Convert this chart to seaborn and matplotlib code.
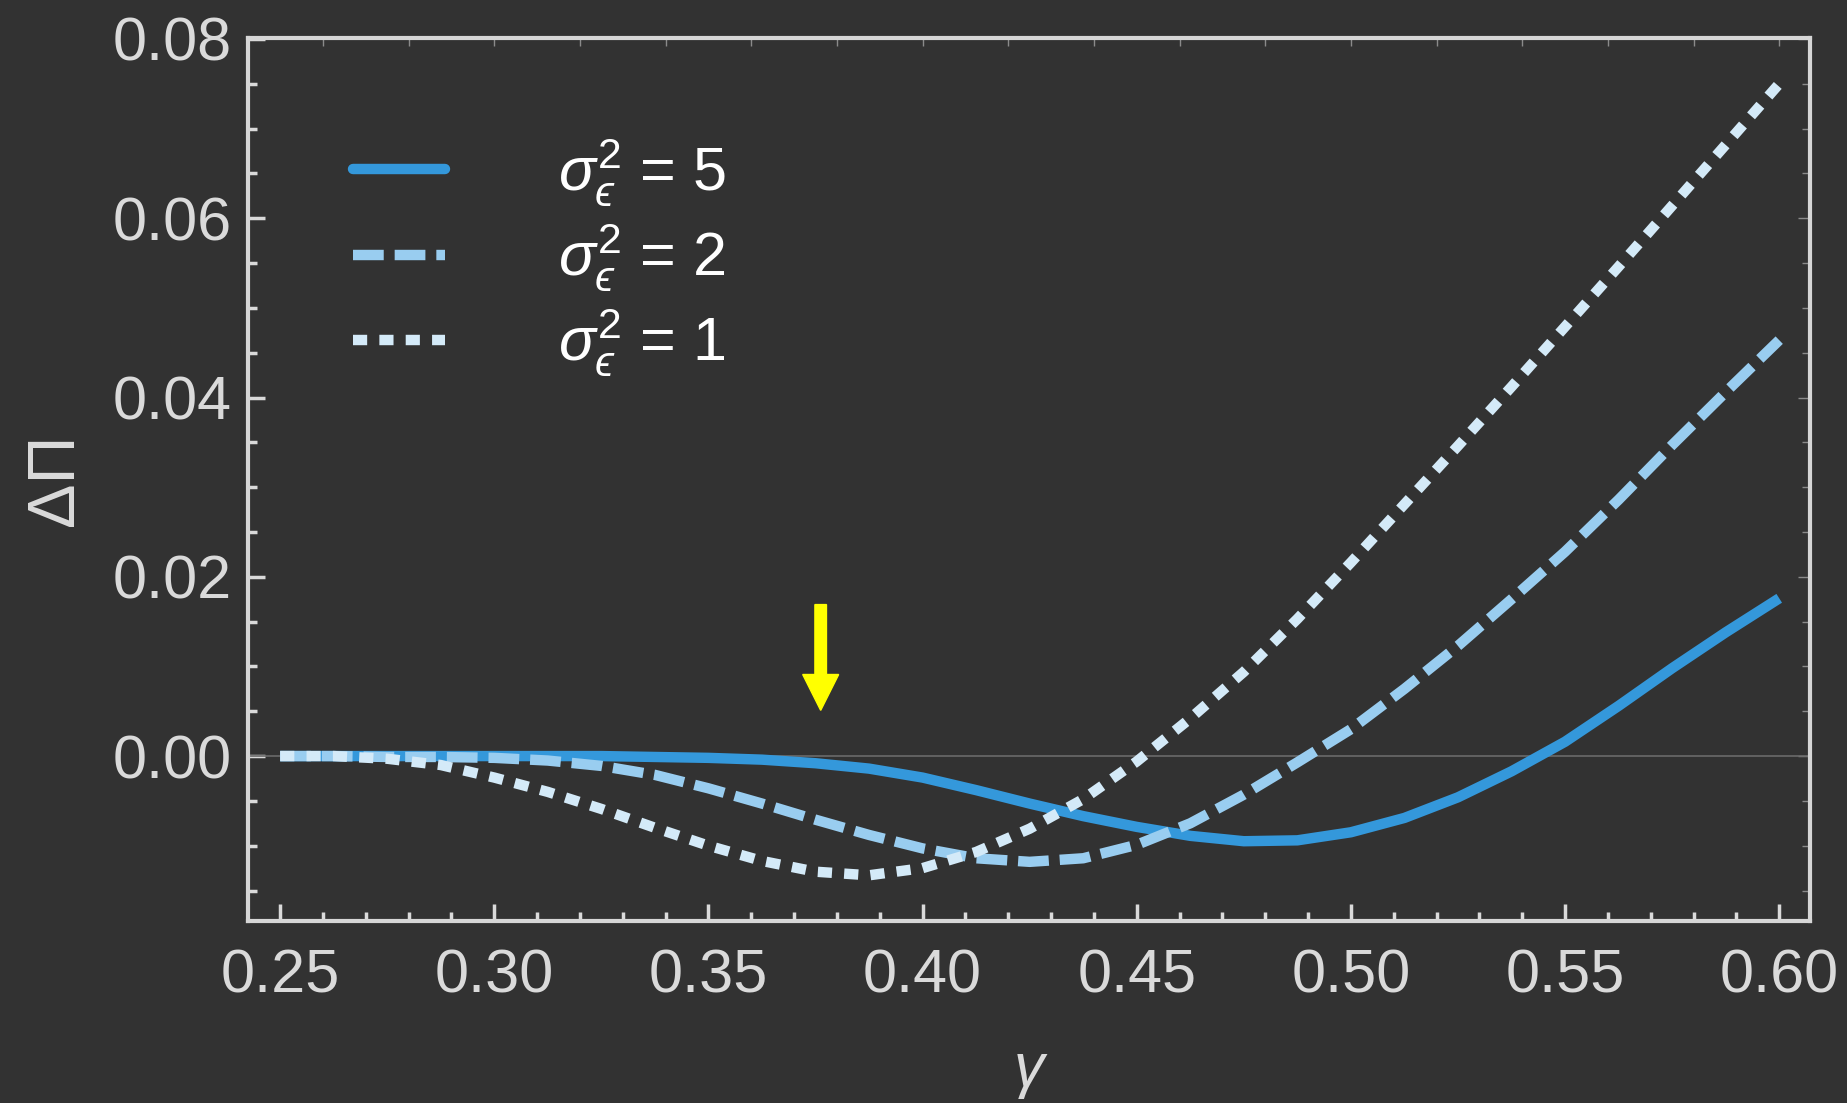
import numpy as np
import pandas as pd
import matplotlib
matplotlib.use('Agg')
import matplotlib.pyplot as plt
from matplotlib.ticker import MultipleLocator, FormatStrFormatter
from matplotlib.lines import Line2D
import seaborn as sns

# values
gamma = [0.25, 0.2625, 0.275, 0.2875, 0.30, 0.3125, 0.325, 0.3375, 0.35, 0.3625,
         0.375, 0.3875, 0.40, 0.4125, 0.425, 0.4375, 0.45, 0.4625, 0.475, 0.4875,
         0.50, 0.5125, 0.525, 0.5375, 0.55, 0.5625, 0.575, 0.5875, 0.60]
dpi_s5 = [0.0, 0.0, 0.0, 0.0, 0.0, 0.0, 0.0, -0.0001, -0.0002, -0.0004,
          -0.0008, -0.0014, -0.0024, -0.0038, -0.0053, -0.0067, -0.0079, -0.0089, -0.0095, -0.0094,
          -0.0085, -0.0069, -0.0046, -0.0017, 0.0016, 0.0056, 0.0098, 0.0138, 0.0176]
dpi_s2 = [0.0, 0.0, -0.0001, -0.0001, -0.0002, -0.0005, -0.0011, -0.0021, -0.0036, -0.0053,
          -0.0071, -0.0088, -0.0103, -0.0114, -0.0118, -0.0114, -0.0099, -0.0075, -0.0043, -0.0007,
          0.0030, 0.0075, 0.0123, 0.0175, 0.0228, 0.0286, 0.0347, 0.0406, 0.0464]
dpi_s1 = [0.0, 0.0, -0.0003, -0.0010, -0.0024, -0.0040, -0.0059, -0.0080, -0.0100, -0.0117,
          -0.0129, -0.0133, -0.0125, -0.0107, -0.0081, -0.0048, -0.0006, 0.0042, 0.0094, 0.0153,
          0.0216, 0.0281, 0.0346, 0.0412, 0.0479, 0.0546, 0.0614, 0.0682, 0.0750]
series_names = ['5', '2', '1']
legend_labels = ['$\\sigma_{\u03f5}^{2}$ = 5', '$\\sigma_{\u03f5}^{2}$ = 2', '$\\sigma_{\u03f5}^{2}$ = 1']
colors = ['#3498db', '#99cdf0', '#d4eaf8']

arrow_x = 0.3762
arrow_top = 0.0169
arrow_tip = 0.0051

df = pd.concat([
    pd.DataFrame({'gamma': gamma, 'dPi': vals, 'sigma': name})
    for name, vals in zip(series_names, [dpi_s5, dpi_s2, dpi_s1])
], ignore_index=True)

bg = '#323232'
fg = '#dadada'
sns.set_theme(style='dark')
plt.rcParams['font.family'] = ['Liberation Sans', 'DejaVu Sans']
plt.rcParams['mathtext.fontset'] = 'custom'
plt.rcParams['mathtext.rm'] = 'Liberation Sans'
plt.rcParams['mathtext.it'] = 'Liberation Sans:italic'

fig = plt.figure(figsize=(18.47, 11.03), dpi=100, facecolor=bg)
ax = fig.add_axes([0.1343, 0.165, 0.8457, 0.8005])
ax.set_facecolor(bg)

ax.axhline(0, color='#6a6a6a', lw=1.2, zorder=1)

lw = 7.5
palette = dict(zip(series_names, colors))
dashes = {'5': '', '2': (2.95, 1.05), '1': (1.36, 1.17)}
sns.lineplot(data=df, x='gamma', y='dPi', hue='sigma', style='sigma',
             hue_order=series_names, style_order=series_names,
             palette=palette, dashes=dashes, lw=lw, legend=False, ax=ax,
             zorder=3)
for ln in ax.lines[1:]:
    ln.set_dash_capstyle('butt')
    ln.set_solid_capstyle('butt')

ax.arrow(arrow_x, arrow_top, 0, arrow_tip - arrow_top, width=0.0027,
         head_width=0.0084, head_length=0.0040, length_includes_head=True,
         color='#ffff00', zorder=4)

ax.set_xlim(0.2425, 0.6072)
ax.set_ylim(-0.0184, 0.0801)

ax.xaxis.set_major_locator(MultipleLocator(0.05))
ax.xaxis.set_minor_locator(MultipleLocator(0.01))
ax.yaxis.set_major_locator(MultipleLocator(0.02))
ax.yaxis.set_minor_locator(MultipleLocator(0.005))
ax.xaxis.set_major_formatter(FormatStrFormatter('%.2f'))
ax.yaxis.set_major_formatter(FormatStrFormatter('%.2f'))

ax.tick_params(axis='both', which='both', direction='in', colors=fg,
               labelsize=44, bottom=True, left=True, top=False, right=False)
ax.tick_params(axis='both', which='major', length=12, width=2.5)
ax.tick_params(axis='both', which='minor', length=6.5, width=2.5)
ax.tick_params(axis='y', which='major', pad=12)
ax.tick_params(axis='x', which='major', pad=20)

# thin grey ticks on the top and right edges
ax_top = ax.secondary_xaxis('top')
ax_top.xaxis.set_major_locator(MultipleLocator(0.02))
ax_top.tick_params(direction='in', length=6, width=1, colors='#8a8a8a', labeltop=False)
ax_top.spines['top'].set_visible(False)
ax_r = ax.secondary_yaxis('right')
ax_r.yaxis.set_major_locator(MultipleLocator(0.02))
ax_r.yaxis.set_minor_locator(MultipleLocator(0.005))
ax_r.tick_params(which='major', direction='in', length=9, width=1, colors='#8a8a8a', labelright=False)
ax_r.tick_params(which='minor', direction='in', length=6, width=1, colors='#8a8a8a')
ax_r.spines['right'].set_visible(False)

for sp in ax.spines.values():
    sp.set_color('#d6d6d6')
    sp.set_linewidth(3)
    sp.set_visible(True)

ax.set_xlabel('γ', fontsize=44, color=fg, fontstyle='italic', labelpad=26)
ax.set_ylabel('ΔΠ', fontsize=48, color=fg, labelpad=18)
ax.grid(False)

handles = [Line2D([], [], color=colors[0], lw=lw)]
for n, c in zip(series_names[1:], colors[1:]):
    h = Line2D([], [], color=c, lw=lw, dashes=dashes[n])
    h.set_dash_capstyle('butt')
    handles.append(h)
leg = ax.legend(handles, legend_labels, loc='upper left', bbox_to_anchor=(0.032, 0.951),
                frameon=False, fontsize=44, handlelength=1.51, handletextpad=1.84,
                labelspacing=0.21, labelcolor='white')

fig.savefig('out.png', dpi=100, facecolor=bg)
